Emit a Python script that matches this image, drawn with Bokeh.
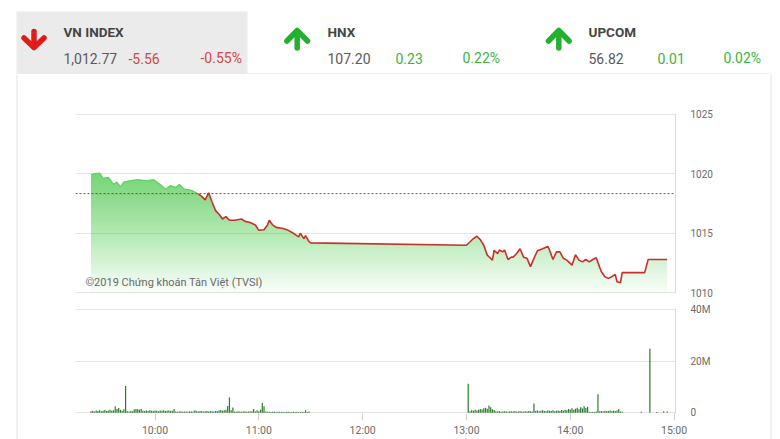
import numpy as np
from bokeh.plotting import figure
from bokeh.layouts import row, column
from bokeh.models import Range1d, FixedTicker, Span
from bokeh.core.properties import value
from bokeh.embed import file_html
from bokeh.resources import INLINE

# ---------------- data ----------------
idx_names = ["VN INDEX", "HNX", "UPCOM"]
idx_values = ["1,012.77", "107.20", "56.82"]
idx_changes = ["-5.56", "0.23", "0.01"]
idx_pcts = ["-0.55%", "0.22%", "0.02%"]
idx_up = [False, True, True]

ref_price = 1018.33

price_times = [
    "09:23", "09:25", "09:28", "09:30", "09:33", "09:36", "09:38", "09:40", "09:42", "09:45",
    "09:50", "09:55", "09:59", "10:03", "10:06", "10:09", "10:12", "10:14", "10:17", "10:21",
    "10:23", "10:25", "10:27", "10:29", "10:31", "10:33", "10:35", "10:37", "10:39", "10:41",
    "10:43", "10:46", "10:50", "10:52", "10:55", "10:58", "11:00", "11:03", "11:05", "11:06",
    "11:08", "11:10", "11:14", "11:17", "11:20", "11:23", "11:24", "11:26", "11:27", "11:29",
    "11:30",
    "13:00", "13:02", "13:04", "13:06", "13:08", "13:10", "13:12", "13:13", "13:15", "13:16",
    "13:18", "13:19", "13:21", "13:22", "13:24", "13:26", "13:27", "13:29", "13:31", "13:33",
    "13:35", "13:37", "13:39", "13:41", "13:44", "13:47", "13:48", "13:50", "13:52", "13:54",
    "13:56", "13:58", "14:01", "14:03", "14:05", "14:07", "14:09", "14:11", "14:13", "14:15",
    "14:17", "14:18", "14:20", "14:22", "14:24", "14:26", "14:27", "14:29", "14:30", "14:43",
    "14:45", "14:56",
]
price_vals = [
    1019.9, 1020.0, 1020.05, 1019.6, 1019.7, 1019.1, 1019.3, 1018.9, 1019.3, 1019.4,
    1019.5, 1019.4, 1019.5, 1019.1, 1018.7, 1019.0, 1018.85, 1019.1, 1018.7, 1018.6,
    1018.45, 1018.3, 1018.1, 1017.8, 1018.4, 1017.6, 1016.9, 1016.6, 1016.2, 1016.4,
    1016.1, 1016.1, 1016.2, 1016.0, 1015.9, 1015.7, 1015.25, 1015.3, 1015.7, 1016.1,
    1015.7, 1015.5, 1015.4, 1015.25, 1015.0, 1014.7, 1015.0, 1014.55, 1014.8, 1014.3,
    1014.2,
    1014.0, 1014.27, 1014.56, 1014.75, 1014.47, 1014.0, 1013.17, 1013.03, 1012.75, 1013.58,
    1013.3, 1013.6, 1013.44, 1013.6, 1012.8, 1013.0, 1013.0, 1013.3, 1013.7, 1013.0,
    1012.9, 1012.2, 1012.9, 1013.53, 1013.7, 1013.9, 1013.6, 1012.8, 1013.44, 1013.44,
    1012.9, 1012.75, 1012.33, 1013.2, 1012.75, 1012.6, 1012.8, 1012.6, 1012.8, 1012.95,
    1012.14, 1011.78, 1011.36, 1011.22, 1011.36, 1011.56, 1010.94, 1010.86, 1011.7, 1011.7,
    1012.8, 1012.8,
]

# volume, millions of shares, one bar per minute
vol_am_start = "09:23"
vol_am = [
    0.6, 0.8, 0.5, 0.9, 0.7, 1.0, 0.6, 0.8, 1.1, 0.7, 0.9, 1.2, 0.8, 1.0,
    2.5,
    1.5, 1.9, 1.2, 0.8,
    1.4, 10.4,
    0.6, 0.5, 0.7, 0.6,
    1.3, 1.5, 1.4, 1.2, 1.5,
    0.8, 0.7, 0.9, 0.7, 1.0, 0.8, 0.7, 0.9, 0.8, 0.6, 0.9, 0.8, 1.0, 0.7, 0.8, 0.9, 0.7, 0.8,
    1.5,
    0.5, 0.4, 0.5, 0.6, 0.4, 0.5, 0.5, 0.4, 0.6, 0.5, 0.5,
    1.0,
    0.6, 0.5, 0.7, 0.6, 0.5, 0.6, 0.7, 0.5, 0.6, 0.6, 0.5, 0.7, 0.6,
    0.9, 1.1, 0.8, 1.0, 1.2,
    2.6, 5.9, 1.0, 2.1,
    0.5, 0.4, 0.6, 0.5, 0.4, 0.5, 0.6, 0.4, 0.5, 0.5, 0.6,
    1.5,
    0.5, 1.0, 0.6, 1.2,
    3.8, 2.5,
    0.5, 0.4, 0.4, 0.3, 0.4, 0.5, 0.3, 0.4, 0.4, 0.3, 0.4, 0.3, 0.4, 0.4, 0.3, 0.3, 0.4,
    0.3, 0.4, 0.3, 0.3, 0.4, 0.3,
    1.0,
    0.3, 0.5,
]
vol_pm_start = "13:01"
vol_pm = [
    11.2,
    0.6, 1.0, 0.8, 1.2, 0.9,
    1.2, 1.5, 1.3, 1.8, 2.0, 1.6, 2.8, 2.2, 1.4, 1.1,
    0.6, 0.5, 0.7, 0.4, 0.5, 0.6, 0.5, 0.4, 0.6, 0.5, 0.5, 0.7, 0.4, 0.5, 0.6, 0.5, 0.4,
    0.6, 0.5, 0.7, 0.6, 0.5,
    3.6,
    0.7, 0.9, 0.6, 0.8, 1.0, 0.7, 0.6, 0.9, 0.8, 0.7, 1.0, 0.6, 0.8, 0.9, 0.7, 1.1, 0.8,
    1.2, 1.0, 1.5, 1.3, 1.8, 1.2, 1.6, 2.0, 1.4, 2.2, 1.7, 2.5, 1.9, 2.4,
    0.4, 0.3, 0.4, 0.3, 0.5,
    7.2,
    0.6, 0.7, 0.5, 0.8, 0.6, 0.7, 0.9, 0.6, 0.8, 0.7, 0.9,
    1.5,
    0.5, 0.4,
]
vol_late_times = ["14:41", "14:46", "14:50", "14:54", "14:56"]
vol_late = [0.4, 24.7, 0.3, 0.6, 0.5]

price_ticks = [1010, 1015, 1020, 1025]
vol_ticks = [0, 20, 40]
vol_tick_labels = ["0", "20M", "40M"]
time_tick_labels = ["10:00", "11:00", "12:00", "13:00", "14:00", "15:00"]
watermark = "©2019 Chứng khoán Tân Việt (TVSI)"


def to_h(s):
    h, m = s.split(":")
    return int(h) + int(m) / 60.0


ph = np.array([to_h(t) for t in price_times])
pv = np.array(price_vals)
vol_x = ([to_h(vol_am_start) + i / 60.0 for i in range(len(vol_am))]
         + [to_h(vol_pm_start) + i / 60.0 for i in range(len(vol_pm))]
         + [to_h(t) for t in vol_late_times])
vol_v = vol_am + vol_pm + vol_late
time_ticks = [to_h(t) for t in time_tick_labels]

FONT = "Roboto"
W, H = 780, 439
HDR_H = 74
BODY_H = H - HDR_H
GREY_LINE = "#e2e2e2"


def bare(fig):
    fig.grid.visible = False
    fig.outline_line_color = None
    fig.background_fill_color = "white"
    fig.border_fill_color = "white"
    return fig


# ---------------- header ----------------
hdr = bare(figure(width=W, height=HDR_H, x_range=Range1d(0, W), y_range=Range1d(HDR_H, 0),
                  toolbar_location=None, output_backend="svg", min_border=0,
                  x_axis_location=None, y_axis_location=None))
hdr.quad(left=16, right=247, top=11, bottom=74, fill_color="#ebebeb", line_color=None)
hdr.segment(x0=247, y0=73.5, x1=770.5, y1=73.5, line_color=GREY_LINE, line_width=1)

name_x = [63, 327, 588]
chg_x = [128, 395, 657]
pct_x = [200, 462, 723]
arrow_x = [33.5, 296.7, 558.3]
green_txt = "#3cb444"
red_txt = "#d24646"
for i in range(3):
    c_arrow = "#23b02f" if idx_up[i] else "#e01b1b"
    c_txt = green_txt if idx_up[i] else red_txt
    cx = arrow_x[i]
    if idx_up[i]:
        xs = [[cx, cx], [cx - 10.3, cx, cx + 10.3]]
        ys = [[31, 47.5], [40.5, 30.0, 40.5]]
    else:
        xs = [[cx, cx], [cx - 10.0, cx, cx + 10.0]]
        ys = [[31, 46.5], [37.5, 47.0, 37.5]]
    hdr.multi_line(xs=xs, ys=ys, line_color=c_arrow, line_width=5.5,
                   line_cap="round", line_join="round")
    hdr.text(x=[name_x[i]], y=[31], text=[idx_names[i]], text_font=value(FONT),
             text_font_style="bold", text_font_size="13.5px", text_color="#454545",
             text_baseline="middle")
    hdr.text(x=[name_x[i]], y=[57.5], text=[idx_values[i]], text_font=value(FONT),
             text_font_size="14px", text_color="#5a5a5a", text_baseline="middle")
    hdr.text(x=[chg_x[i], pct_x[i]], y=[57.5, 57.5], text=[idx_changes[i], idx_pcts[i]],
             text_font=value(FONT), text_font_size="14px", text_color=c_txt,
             text_baseline="middle")

# ---------------- side strips (panel border) ----------------
LS_W = 75
RS_W = 11
CH_W = W - LS_W - RS_W          # 694
ls = bare(figure(width=LS_W, height=BODY_H, x_range=Range1d(0, LS_W), y_range=Range1d(H, HDR_H),
                 toolbar_location=None, output_backend="svg", min_border=0,
                 x_axis_location=None, y_axis_location=None))
ls.segment(x0=16.5, y0=HDR_H, x1=16.5, y1=H, line_color=GREY_LINE, line_width=1)
rs = bare(figure(width=RS_W, height=BODY_H, x_range=Range1d(W - RS_W, W), y_range=Range1d(H, HDR_H),
                 toolbar_location=None, output_backend="svg", min_border=0,
                 x_axis_location=None, y_axis_location=None))
rs.segment(x0=770.5, y0=HDR_H, x1=770.5, y1=H, line_color=GREY_LINE, line_width=1)

# ---------------- price chart ----------------
xr = Range1d(9.234, 15.0135)
pf = figure(width=CH_W, height=226, x_range=xr, y_range=Range1d(1009.95, 1025.05),
            toolbar_location=None, output_backend="svg", x_axis_location=None,
            y_axis_location="right", min_border_left=0, min_border_right=94,
            min_border_top=39, min_border_bottom=7)
pf.outline_line_color = None
pf.xgrid.visible = False
pf.ygrid.ticker = FixedTicker(ticks=price_ticks)
pf.ygrid.grid_line_color = "#e4e4e4"
ax = pf.yaxis[0]
ax.ticker = FixedTicker(ticks=price_ticks)
ax.axis_line_color = "#dcdcdc"
ax.major_tick_line_color = None
ax.minor_tick_line_color = None
ax.major_tick_out = 0
ax.major_tick_in = 0
ax.major_label_standoff = 15
ax.major_label_text_font = FONT
ax.major_label_text_font_size = "10px"
ax.major_label_text_color = "#6a6a6a"

# gradient fill under the curve (stacked translucent layers)
levels = np.arange(1009.95, 1020.6, 0.25)
prev = 0.0
for L in levels:
    o = float(np.clip(0.04 + 0.074 * (L + 0.125 - 1010.0), 0.02, 0.8))
    a = 1.0 - (1.0 - o) / (1.0 - prev)
    prev = o
    pf.varea(x=ph, y1=L, y2=np.maximum(pv, L), fill_color="#5bd25b", fill_alpha=a)

pf.add_layout(Span(location=ref_price, dimension="width", line_color="#b03434",
                   line_dash="2 2", line_width=1))

split = int(np.argmax(pv <= ref_price))
pf.line(ph[:split + 1], pv[:split + 1], line_color="#66cf66", line_width=1.3)
pf.line(ph[split:], pv[split:], line_color="#c8302a", line_width=1.6)

pf.text(x=[9.33], y=[1010.9], text=[watermark], text_font=value(FONT),
        text_font_size="11px", text_color="#6a6a6a", text_baseline="alphabetic")

# ---------------- volume chart ----------------
vf = figure(width=CH_W, height=BODY_H - 226, x_range=xr, y_range=Range1d(-0.25, 40.25),
            toolbar_location=None, output_backend="svg", x_axis_location="below",
            y_axis_location="right", min_border_left=0, min_border_right=94,
            min_border_top=8, min_border_bottom=26)
vf.outline_line_color = None
vf.xgrid.visible = False
vf.ygrid.ticker = FixedTicker(ticks=vol_ticks)
vf.ygrid.grid_line_color = "#e4e4e4"
vf.vbar(x=vol_x, top=vol_v, bottom=0, width=0.7 / 60, fill_color="#2b7d2b", line_color=None)

vax = vf.yaxis[0]
vax.ticker = FixedTicker(ticks=vol_ticks)
vax.major_label_overrides = {t: l for t, l in zip(vol_ticks, vol_tick_labels)}
vax.axis_line_color = "#dcdcdc"
vax.major_tick_line_color = None
vax.minor_tick_line_color = None
vax.major_tick_out = 0
vax.major_tick_in = 0
vax.major_label_standoff = 15
vax.major_label_text_font = FONT
vax.major_label_text_font_size = "10px"
vax.major_label_text_color = "#6a6a6a"

xax = vf.xaxis[0]
xax.ticker = FixedTicker(ticks=time_ticks)
xax.major_label_overrides = {t: l for t, l in zip(time_ticks, time_tick_labels)}
xax.axis_line_color = None
xax.major_tick_line_color = "#d0d0d0"
xax.minor_tick_line_color = None
xax.major_tick_out = 7
xax.major_tick_in = 0
xax.major_label_standoff = 3
xax.major_label_text_font = FONT
xax.major_label_text_font_size = "10.5px"
xax.major_label_text_color = "#6a6a6a"

layout = column(hdr, row(ls, column(pf, vf), rs))
with open("out.html", "w") as f:
    f.write(file_html(layout, INLINE))
